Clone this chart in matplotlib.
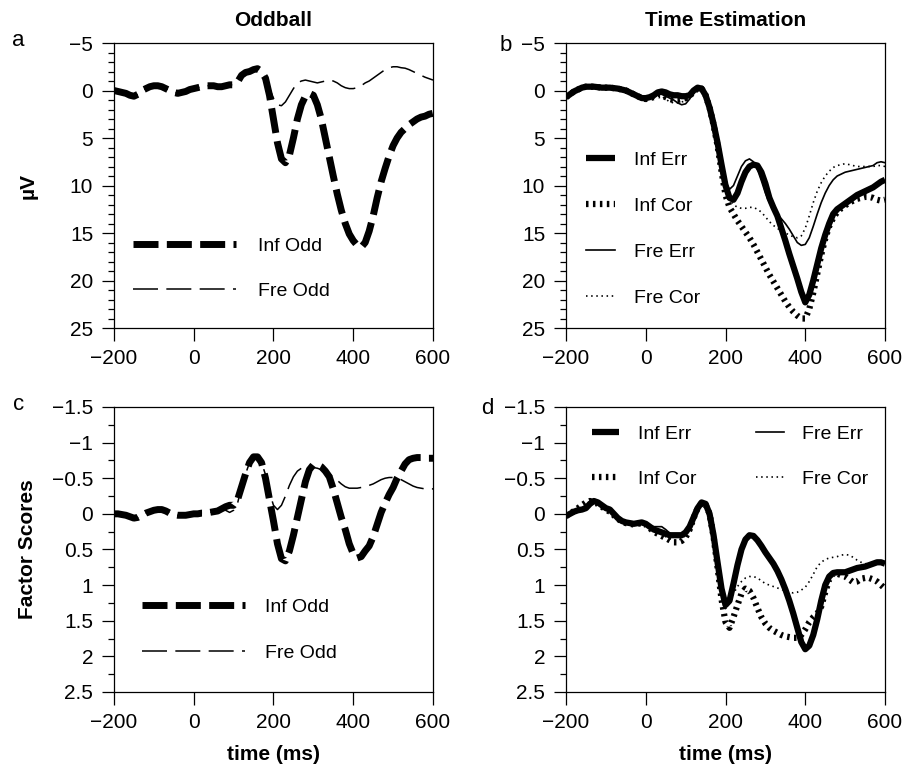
import numpy as np
import matplotlib
matplotlib.use("Agg")
import matplotlib.pyplot as plt
from matplotlib.ticker import MultipleLocator, FuncFormatter

plt.rcParams['font.family'] = ['Liberation Sans', 'DejaVu Sans']
plt.rcParams['lines.scale_dashes'] = False  # dash lengths in points

# time axis, one value every 10 ms from -200 to 600
time_ms = np.arange(-200, 601, 10)

# panel a: oddball ERPs (uV)
odd_inf_uv = [0.0, 0.1, 0.2, 0.3, 0.5, 0.6, 0.4, 0.0, -0.2, -0.4,
              -0.5, -0.5, -0.4, -0.2, 0.0, 0.2, 0.3, 0.2, 0.1, -0.1,
              -0.2, -0.3, -0.4, -0.5, -0.5, -0.5, -0.4, -0.4, -0.5, -0.6,
              -0.6, -0.9, -1.6, -1.9, -2.0, -2.2, -2.3, -2.0, -1.3, 0.5,
              3.0, 5.5, 7.2, 7.6, 6.8, 5.0, 3.0, 1.5, 0.6, 0.3,
              0.5, 1.5, 3.0, 5.0, 7.0, 9.0, 10.9, 12.6, 14.0, 15.1,
              15.8, 16.3, 16.5, 16.0, 14.8, 13.2, 11.3, 9.6, 8.2, 6.9,
              5.8, 5.0, 4.4, 4.0, 3.6, 3.3, 3.0, 2.8, 2.7, 2.5,
              2.4]
odd_fre_uv = [0.0, 0.1, 0.2, 0.3, 0.5, 0.6, 0.4, 0.0, -0.2, -0.4,
              -0.5, -0.5, -0.4, -0.2, 0.0, 0.2, 0.3, 0.2, 0.1, -0.1,
              -0.2, -0.3, -0.4, -0.5, -0.5, -0.5, -0.4, -0.4, -0.5, -0.6,
              -0.6, -0.9, -1.6, -1.9, -2.0, -2.2, -2.3, -2.0, -1.3, -0.2,
              0.8, 1.5, 1.6, 1.2, 0.5, -0.2, -0.8, -1.0, -1.1, -1.0,
              -0.9, -0.8, -0.9, -1.0, -1.1, -1.0, -0.8, -0.5, -0.3, -0.2,
              -0.2, -0.3, -0.5, -0.8, -1.0, -1.3, -1.6, -1.9, -2.2, -2.4,
              -2.5, -2.5, -2.4, -2.35, -2.2, -2.0, -1.8, -1.6, -1.4, -1.25,
              -1.1]

# panel b: time estimation ERPs (uV)
te_inf_err_uv = [0.7, 0.4, 0.1, -0.1, -0.3, -0.4, -0.4, -0.4, -0.35, -0.3,
                 -0.3, -0.3, -0.25, -0.2, -0.1, 0.0, 0.2, 0.4, 0.6, 0.8,
                 0.8, 0.7, 0.5, 0.2, 0.1, 0.2, 0.4, 0.5, 0.5, 0.6,
                 0.6, 0.5, 0.0, -0.3, -0.2, 0.5, 1.8, 3.5, 5.5, 7.8,
                 10.0, 11.3, 11.5, 10.8, 9.6, 8.6, 8.0, 7.8, 7.9, 8.6,
                 9.8, 11.3, 12.3, 13.2, 14.5, 15.8, 17.2, 18.5, 19.8, 21.2,
                 22.3, 21.5, 20.0, 18.3, 16.6, 15.2, 14.0, 13.0, 12.5, 12.2,
                 11.9, 11.6, 11.3, 11.0, 10.8, 10.6, 10.4, 10.2, 9.9, 9.6,
                 9.4]
te_inf_cor_uv = [0.7, 0.4, 0.1, -0.1, -0.3, -0.4, -0.4, -0.4, -0.35, -0.3,
                 -0.3, -0.3, -0.25, -0.2, -0.1, 0.0, 0.2, 0.4, 0.6, 0.8,
                 0.9, 0.8, 0.7, 0.5, 0.5, 0.7, 0.9, 1.0, 1.0, 0.9,
                 0.8, 0.6, 0.1, -0.2, -0.2, 0.5, 1.8, 3.6, 5.8, 8.5,
                 11.0, 12.3, 13.0, 13.7, 14.3, 14.9, 15.5, 16.2, 17.0, 17.8,
                 18.6, 19.4, 20.1, 20.8, 21.5, 22.2, 22.8, 23.3, 23.7, 24.0,
                 24.0, 23.0, 21.3, 19.3, 17.3, 15.6, 14.3, 13.4, 12.8, 12.4,
                 12.1, 11.8, 11.6, 11.4, 11.3, 11.2, 11.2, 11.3, 11.5, 11.6,
                 11.5]
te_fre_err_uv = [0.7, 0.4, 0.1, -0.1, -0.3, -0.4, -0.4, -0.4, -0.35, -0.3,
                 -0.3, -0.3, -0.25, -0.2, -0.1, 0.0, 0.2, 0.4, 0.6, 0.8,
                 0.8, 0.8, 0.7, 0.4, 0.4, 0.6, 0.8, 1.0, 1.3, 1.5,
                 1.4, 0.9, 0.2, -0.2, -0.2, 0.5, 1.8, 3.5, 5.5, 7.6,
                 9.5, 10.4, 10.0, 9.0, 8.0, 7.4, 7.2, 7.5, 8.3, 9.5,
                 10.8, 11.8, 12.5, 13.0, 13.5, 14.0, 14.6, 15.3, 16.0, 16.3,
                 16.2, 15.5, 14.3, 13.0, 11.8, 10.8, 10.0, 9.4, 9.0, 8.8,
                 8.6, 8.5, 8.4, 8.3, 8.2, 8.1, 8.0, 7.9, 7.6, 7.5,
                 7.6]
te_fre_cor_uv = [0.7, 0.4, 0.1, -0.1, -0.3, -0.4, -0.4, -0.4, -0.35, -0.3,
                 -0.3, -0.3, -0.25, -0.2, -0.1, 0.0, 0.2, 0.4, 0.6, 0.8,
                 0.9, 0.9, 0.8, 0.6, 0.6, 0.9, 1.2, 1.3, 1.3, 1.2,
                 1.1, 0.8, 0.2, -0.2, -0.2, 0.5, 1.8, 3.6, 5.7, 8.0,
                 10.5, 11.5, 12.0, 12.3, 12.4, 12.4, 12.3, 12.3, 12.5, 12.8,
                 13.3, 13.8, 14.2, 14.5, 14.8, 15.0, 15.2, 15.4, 15.5, 15.3,
                 14.5, 13.2, 11.8, 10.6, 9.7, 9.0, 8.5, 8.1, 7.9, 7.8,
                 7.7, 7.8, 7.9, 8.0, 8.0, 8.0, 8.0, 8.0, 7.9, 7.9,
                 8.0]

# panel c: oddball factor scores
odd_inf_fs = [0.0, 0.0, 0.01, 0.02, 0.04, 0.06, 0.05, 0.02, -0.01, -0.03,
              -0.05, -0.06, -0.06, -0.04, -0.01, 0.01, 0.02, 0.02, 0.02, 0.01,
              0.0, 0.0, -0.01, -0.01, -0.02, -0.03, -0.04, -0.07, -0.10, -0.12,
              -0.12, -0.2, -0.38, -0.56, -0.72, -0.80, -0.80, -0.72, -0.50, -0.2,
              0.1, 0.42, 0.63, 0.66, 0.52, 0.3, 0.05, -0.2, -0.45, -0.62,
              -0.69, -0.69, -0.66, -0.60, -0.52, -0.35, -0.15, 0.05, 0.22, 0.42,
              0.56, 0.62, 0.60, 0.52, 0.45, 0.32, 0.15, -0.02, -0.15, -0.27,
              -0.37, -0.50, -0.60, -0.70, -0.76, -0.78, -0.79, -0.79, -0.78, -0.78,
              -0.78]
odd_fre_fs = [0.0, 0.0, 0.01, 0.02, 0.04, 0.06, 0.05, 0.02, -0.01, -0.03,
              -0.05, -0.06, -0.06, -0.04, -0.01, 0.01, 0.02, 0.02, 0.02, 0.01,
              0.0, 0.0, -0.01, -0.01, -0.02, -0.03, -0.04, -0.05, -0.05, -0.02,
              -0.05, -0.15, -0.38, -0.56, -0.72, -0.80, -0.80, -0.72, -0.55, -0.30,
              -0.12, -0.06, -0.12, -0.25, -0.40, -0.52, -0.60, -0.64, -0.66, -0.66,
              -0.65, -0.64, -0.62, -0.60, -0.56, -0.52, -0.47, -0.42, -0.38, -0.36,
              -0.36, -0.36, -0.37, -0.38, -0.40, -0.42, -0.45, -0.48, -0.50, -0.51,
              -0.51, -0.50, -0.48, -0.45, -0.42, -0.39, -0.37, -0.36, -0.35, -0.35,
              -0.35]

# panel d: time estimation factor scores
te_inf_err_fs = [0.03, 0.0, -0.03, -0.05, -0.06, -0.08, -0.14, -0.18, -0.16, -0.12,
                 -0.08, -0.06, 0.0, 0.06, 0.10, 0.12, 0.13, 0.14, 0.13, 0.12,
                 0.14, 0.18, 0.22, 0.24, 0.26, 0.28, 0.30, 0.30, 0.30, 0.30,
                 0.26, 0.18, 0.05, -0.08, -0.16, -0.14, 0.0, 0.30, 0.68, 1.05,
                 1.28, 1.22, 0.98, 0.72, 0.50, 0.36, 0.30, 0.31, 0.37, 0.45,
                 0.54, 0.62, 0.70, 0.80, 0.92, 1.06, 1.22, 1.40, 1.60, 1.80,
                 1.90, 1.85, 1.70, 1.48, 1.22, 1.00, 0.88, 0.83, 0.82, 0.82,
                 0.82, 0.80, 0.78, 0.76, 0.75, 0.74, 0.72, 0.70, 0.68, 0.68,
                 0.70]
te_inf_cor_fs = [0.03, 0.0, -0.04, -0.08, -0.12, -0.16, -0.18, -0.16, -0.14, -0.10,
                 -0.06, -0.03, 0.02, 0.07, 0.11, 0.13, 0.14, 0.15, 0.14, 0.13,
                 0.15, 0.20, 0.25, 0.28, 0.31, 0.34, 0.37, 0.40, 0.40, 0.38,
                 0.33, 0.22, 0.06, -0.08, -0.15, -0.13, 0.0, 0.32, 0.75, 1.20,
                 1.52, 1.60, 1.45, 1.28, 1.12, 1.05, 1.08, 1.18, 1.32, 1.45,
                 1.54, 1.60, 1.64, 1.67, 1.70, 1.72, 1.73, 1.74, 1.74, 1.70,
                 1.62, 1.52, 1.45, 1.40, 1.30, 1.10, 0.92, 0.84, 0.84, 0.86,
                 0.88, 0.92, 0.96, 0.95, 0.91, 0.90, 0.90, 0.92, 0.95, 1.00,
                 1.05]
te_fre_err_fs = [0.03, 0.0, -0.03, -0.05, -0.06, -0.08, -0.13, -0.17, -0.15, -0.12,
                 -0.08, -0.05, 0.0, 0.06, 0.10, 0.12, 0.13, 0.14, 0.13, 0.12,
                 0.14, 0.17, 0.18, 0.18, 0.18, 0.22, 0.27, 0.30, 0.30, 0.29,
                 0.25, 0.17, 0.05, -0.08, -0.16, -0.14, 0.0, 0.30, 0.68, 1.05,
                 1.26, 1.20, 0.96, 0.70, 0.49, 0.36, 0.31, 0.32, 0.38, 0.46,
                 0.55, 0.63, 0.71, 0.81, 0.93, 1.07, 1.22, 1.40, 1.60, 1.79,
                 1.88, 1.84, 1.69, 1.47, 1.21, 1.00, 0.88, 0.83, 0.82, 0.82,
                 0.82, 0.80, 0.78, 0.76, 0.75, 0.74, 0.72, 0.70, 0.68, 0.67,
                 0.69]
te_fre_cor_fs = [0.03, 0.0, -0.04, -0.07, -0.10, -0.14, -0.17, -0.15, -0.13, -0.10,
                 -0.06, -0.03, 0.02, 0.07, 0.11, 0.13, 0.14, 0.15, 0.14, 0.13,
                 0.15, 0.19, 0.23, 0.26, 0.29, 0.32, 0.35, 0.37, 0.37, 0.35,
                 0.30, 0.20, 0.05, -0.08, -0.15, -0.13, 0.0, 0.32, 0.70, 1.10,
                 1.33, 1.25, 1.12, 1.02, 0.95, 0.90, 0.88, 0.88, 0.90, 0.94,
                 0.98, 1.00, 1.02, 1.04, 1.06, 1.08, 1.10, 1.11, 1.10, 1.07,
                 1.03, 0.95, 0.85, 0.74, 0.68, 0.64, 0.62, 0.61, 0.60, 0.58,
                 0.57, 0.58, 0.61, 0.65, 0.68, 0.70, 0.70, 0.69, 0.68, 0.68,
                 0.70]

x_ticks = [-200, 0, 200, 400, 600]

# line styles (width in pt, dashes in pt)
inf_odd_style = dict(color='black', lw=5.0, dashes=(18, 6))
fre_odd_style = dict(color='black', lw=1.1, dashes=(18, 6))
inf_err_style = dict(color='black', lw=4.5, solid_capstyle='butt')
inf_cor_style = dict(color='black', lw=4.5, dashes=(1.8, 3.2))
fre_err_style = dict(color='black', lw=1.2)
fre_cor_style = dict(color='black', lw=1.2, dashes=(1.1, 2.6))

# tick labels like "-0.5", "1", "2.5" with a real minus sign
short_fmt = FuncFormatter(lambda v, pos: ('%g' % v).replace('-', '\u2212'))


def style_axis(ax, ylim, major, minor):
    ax.set_xlim(-200, 600)
    ax.set_ylim(*ylim)
    ax.set_xticks(x_ticks)
    ax.yaxis.set_major_locator(MultipleLocator(major))
    ax.yaxis.set_minor_locator(MultipleLocator(minor))
    ax.yaxis.set_major_formatter(short_fmt)
    ax.xaxis.set_major_formatter(short_fmt)
    ax.tick_params(axis='both', which='major', direction='out', length=9,
                   width=0.9, labelsize=15, pad=6)
    ax.tick_params(axis='y', which='minor', direction='out', length=4.5, width=0.9)
    for s in ax.spines.values():
        s.set_linewidth(0.9)


fig = plt.figure(figsize=(9.03, 7.68), dpi=100)
w, h = 0.3533, 0.3711
ax_a = fig.add_axes([0.1262, 0.5729, w, h])
ax_b = fig.add_axes([0.6268, 0.5729, w, h])
ax_c = fig.add_axes([0.1262, 0.0990, w, h])
ax_d = fig.add_axes([0.6268, 0.0990, w, h])

# a - oddball ERP
ax_a.plot(time_ms, odd_inf_uv, label='Inf Odd', **inf_odd_style)
ax_a.plot(time_ms, odd_fre_uv, label='Fre Odd', **fre_odd_style)
style_axis(ax_a, (25, -5), 5, 1)
ax_a.legend(loc='center left', bbox_to_anchor=(0.06, 0.209), frameon=False,
            fontsize=14, handlelength=5.3, handletextpad=1.1, labelspacing=1.4,
            borderpad=0, borderaxespad=0)

# b - time estimation ERP
ax_b.plot(time_ms, te_inf_err_uv, label='Inf Err', zorder=3, **inf_err_style)
ax_b.plot(time_ms, te_inf_cor_uv, label='Inf Cor', zorder=2, **inf_cor_style)
ax_b.plot(time_ms, te_fre_err_uv, label='Fre Err', zorder=4, **fre_err_style)
ax_b.plot(time_ms, te_fre_cor_uv, label='Fre Cor', zorder=4, **fre_cor_style)
style_axis(ax_b, (25, -5), 5, 1)
ax_b.legend(loc='center left', bbox_to_anchor=(0.063, 0.347), frameon=False,
            fontsize=14, handlelength=1.5, handletextpad=0.95, labelspacing=1.47,
            borderpad=0, borderaxespad=0)

# c - oddball factor scores
ax_c.plot(time_ms, odd_inf_fs, label='Inf Odd', **inf_odd_style)
ax_c.plot(time_ms, odd_fre_fs, label='Fre Odd', **fre_odd_style)
style_axis(ax_c, (2.5, -1.5), 0.5, 0.25)
ax_c.legend(loc='center left', bbox_to_anchor=(0.088, 0.2175), frameon=False,
            fontsize=14, handlelength=5.3, handletextpad=1.0, labelspacing=1.45,
            borderpad=0, borderaxespad=0)

# d - time estimation factor scores
ax_d.plot(time_ms, te_inf_err_fs, label='Inf Err', zorder=3, **inf_err_style)
ax_d.plot(time_ms, te_inf_cor_fs, label='Inf Cor', zorder=2, **inf_cor_style)
ax_d.plot(time_ms, te_fre_err_fs, label='Fre Err', zorder=4, **fre_err_style)
ax_d.plot(time_ms, te_fre_cor_fs, label='Fre Cor', zorder=4, **fre_cor_style)
style_axis(ax_d, (2.5, -1.5), 0.5, 0.25)
ax_d.legend(loc='center left', bbox_to_anchor=(0.0815, 0.826), frameon=False,
            fontsize=14, ncol=2, handlelength=1.4, handletextpad=0.95,
            labelspacing=1.4, columnspacing=3.1, borderpad=0, borderaxespad=0)

# titles, axis labels, panel letters
ax_a.set_title('Oddball', fontsize=15, fontweight='bold', pad=12)
ax_b.set_title('Time Estimation', fontsize=15, fontweight='bold', pad=12)
ax_a.set_ylabel('\u00b5V', fontsize=15, fontweight='bold', va='center')
ax_a.yaxis.set_label_coords(-0.27, 0.5)
ax_c.set_ylabel('Factor Scores', fontsize=15, fontweight='bold', va='center')
ax_c.yaxis.set_label_coords(-0.27, 0.5)
for ax in (ax_c, ax_d):
    ax.set_xlabel('time (ms)', fontsize=15, fontweight='bold', va='center')
    ax.xaxis.set_label_coords(0.5, -0.221)

ax_a.text(-0.30, 1.01, 'a', transform=ax_a.transAxes, fontsize=16, ha='center', va='center')
ax_b.text(-0.19, 0.993, 'b', transform=ax_b.transAxes, fontsize=16, ha='center', va='center')
ax_c.text(-0.30, 1.007, 'c', transform=ax_c.transAxes, fontsize=16, ha='center', va='center')
ax_d.text(-0.248, 0.993, 'd', transform=ax_d.transAxes, fontsize=16, ha='center', va='center')

fig.savefig('out.png', dpi=100)
